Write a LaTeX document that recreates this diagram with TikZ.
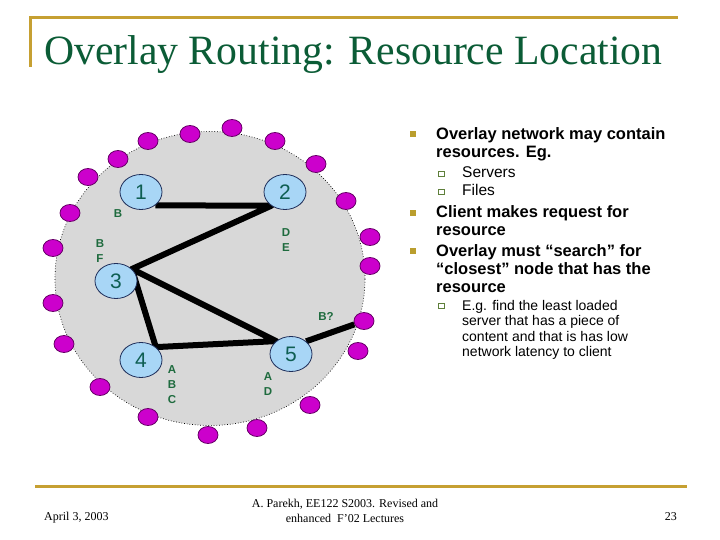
\documentclass[tikz,border=0pt]{standalone}
\usepackage{fontspec}
\setmainfont{Liberation Serif}
\setsansfont{Liberation Sans}
\usetikzlibrary{shapes.geometric, backgrounds}
\definecolor{titleClr}{HTML}{0B5C36}
\definecolor{ruleClr}{HTML}{C6A032}
\definecolor{discFl}{HTML}{D8D8D8}
\definecolor{peerFl}{HTML}{CC00CC}
\definecolor{peerBd}{HTML}{660066}
\definecolor{hubFl}{HTML}{A8D6F6}
\definecolor{hubBd}{HTML}{1E2E5A}
\definecolor{numClr}{HTML}{0E5E52}
\definecolor{tagClr}{HTML}{1E6B3E}
\definecolor{bulClr}{HTML}{BA9E2E}
\definecolor{subBd}{HTML}{5E7F3A}
\newcommand{\px}[1]{\fontsize{#1}{#1}\selectfont}

\begin{document}
\begin{tikzpicture}[
  x=1pt, y=-1pt,
  peer/.style={ellipse, draw=peerBd, line width=0.8pt, fill=peerFl,
               minimum width=20pt, minimum height=17pt, inner sep=0pt},
  hub/.style={ellipse, draw=hubBd, line width=0.8pt, fill=hubFl,
              minimum width=42pt, minimum height=35pt, inner sep=0pt,
              text=numClr, font=\sffamily\px{21}},
  tag/.style={text=tagClr, font=\sffamily\bfseries\fontsize{11.5}{15}\selectfont,
              align=center, inner sep=0pt},
  link/.style={line width=6pt, draw=black, line join=round},
  item/.style={anchor=base west, align=left, inner sep=0pt,
               font=\sffamily\bfseries\fontsize{16.5}{18}\selectfont},
  subitem/.style={anchor=base west, align=left, inner sep=0pt,
                  font=\sffamily\fontsize{15.5}{18}\selectfont},
  bul/.style={fill=bulClr, minimum size=6pt, inner sep=0pt},
  subbul/.style={draw=subBd, fill=white, line width=1pt,
                 minimum width=6pt, minimum height=5pt, inner sep=0pt},
  rule/.style={draw=ruleClr, line width=3pt},
]
\useasboundingbox (0,0) rectangle (720,540);

% ---------- title and rules ----------
\draw[rule] (30,67) -- (30,18) -- (678,18);
\node[anchor=base west, inner sep=0pt, text=titleClr, font=\px{41.7}] (title)
  at (44,65) {Overlay Routing: Resource Location};
\draw[rule] (35,486) -- (687,486);

% ---------- overlay disc ----------
\begin{scope}[on background layer]
  \fill[white] (0,0) rectangle (720,540);
  \fill[discFl] (210,278.5) ellipse [x radius=155pt, y radius=147pt];
  \draw[dotted, line width=0.7pt] (210,278.5) ellipse [x radius=155pt, y radius=147pt];
\end{scope}

% ---------- peers on the rim ----------
\foreach \xx/\yy [count=\i] in {232/128, 275/141, 316/164, 346/201, 370/237,
    370/266, 364/321, 358/351, 310/405, 257/428, 208/435, 148/417, 100/387,
    64/344, 53/303, 53/248, 70/213, 88/177, 118/159, 148/141, 190/134}
  \node[peer] (p\i) at (\xx,\yy) {};

% ---------- overlay nodes ----------
\node[hub] (h1) at (141,192) {1};
\node[hub] (h2) at (285,192) {2};
\node[hub] (h3) at (116,281) {3};
\node[hub] (h4) at (141,360) {4};
\node[hub] (h5) at (291,354) {5};

\begin{scope}[on background layer]
  \draw[link] (h1.-43) -- (h2.-135) -- (h3.37) -- (h4.41) -- (h5.139) -- (h3.37);
  \draw[link] (h5.40) -- (p7);
\end{scope}

% ---------- resource tags ----------
\node[tag] (tB)   at (118,214)   {B};
\node[tag] (tBF)  at (100,251.5) {B\\F};
\node[tag] (tDE)  at (286,240)   {D\\E};
\node[tag] (tQ)   at (326,316)   {B?};
\node[tag] (tABC) at (172,385)   {A\\B\\C};
\node[tag] (tAD)  at (268,384.5) {A\\D};

% ---------- bullet text (base = last line) ----------
\node[bul] at (413,134.5) {};
\node[item] (i1) at (436,158) {Overlay network may contain\\resources. Eg.};
\node[subbul] at (441,174) {};
\node[subitem] (s1) at (462,177.5) {Servers};
\node[subbul] at (441,192) {};
\node[subitem] (s2) at (462,195.5) {Files};
\node[bul] at (413,213.5) {};
\node[item] (i2) at (436,236) {Client makes request for\\resource};
\node[bul] at (413,251) {};
\node[item] (i3) at (436,292) {Overlay must “search” for\\“closest” node that has the\\resource};
\node[subbul] at (441,306) {};
\node[subitem, font=\sffamily\fontsize{14}{15.5}\selectfont] (s3) at (462,356.5)
  {E.g. find the least loaded\\server that has a piece of\\content and that is has low\\network latency to client};

% ---------- footer ----------
\node[anchor=base west, inner sep=0pt, font=\px{12}] (date) at (44,520) {April 3, 2003};
\node[anchor=base, align=center, inner sep=0pt, font=\fontsize{12}{15}\selectfont] (src)
  at (345,522) {A. Parekh, EE122 S2003. Revised and\\enhanced\ \ F'02 Lectures};
\node[anchor=base east, inner sep=0pt, font=\px{12}] (page) at (677,520) {23};

\end{tikzpicture}
\end{document}
